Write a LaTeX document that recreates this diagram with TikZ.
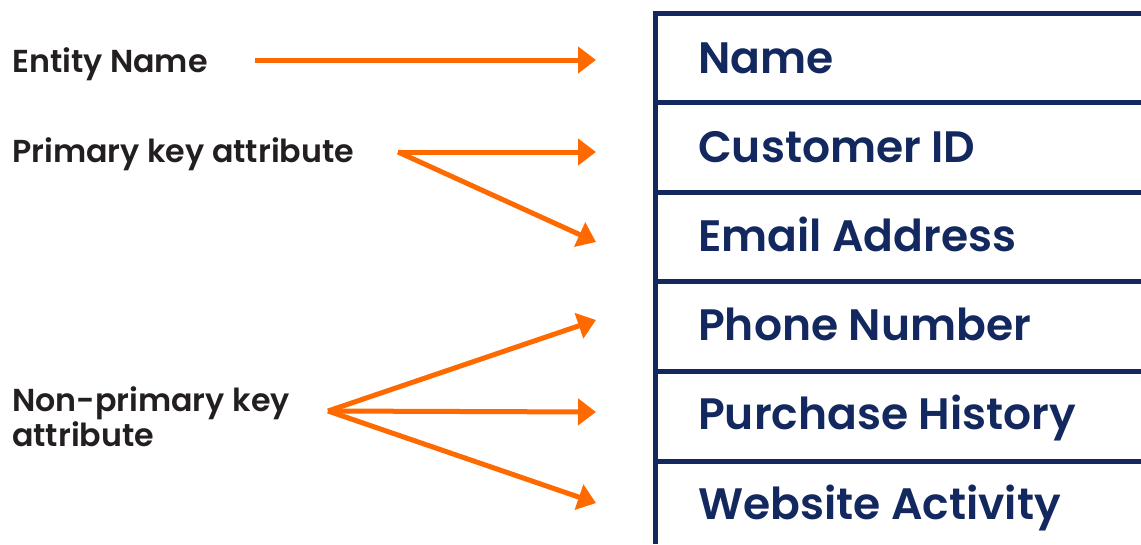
\documentclass[tikz,border=0pt]{standalone}
\usepackage{fontspec}
\setmainfont{Poppins}
\newfontfamily\labelfont{Poppins SemiBold}
\newfontfamily\rowfont{Poppins SemiBold}
\usetikzlibrary{arrows.meta}
\definecolor{navy}{RGB}{19,40,94}
\definecolor{pointer}{RGB}{255,106,0}
\definecolor{ink}{RGB}{35,31,32}
\tikzset{
  lbl/.style={anchor=base west, inner sep=0pt, text=ink, font=\labelfont\fontsize{31.7}{30}\selectfont, align=left},
  rowtext/.style={anchor=base west, inner sep=0pt, text=navy, font=\rowfont\fontsize{44}{50}\selectfont},
  rule/.style={draw=navy, line width=5pt},
  pointer/.style={draw=pointer, line width=5pt, -{Triangle[length=18pt,width=26pt]}}
}
\begin{document}
\begin{tikzpicture}[x=1pt,y=-1pt]
\useasboundingbox (0,0) rectangle (1141,544);

% entity table
\draw[rule] (655.5,11) -- (655.5,544);
\foreach \y in {13.5,102,192,281,371,461}
  \draw[rule] (653,\y) -- (1141,\y);

\node[rowtext] (rName)  at (698,73)  {Name};
\node[rowtext] (rCust)  at (698,162) {Customer ID};
\node[rowtext] (rEmail) at (698,251) {Email Address};
\node[rowtext] (rPhone) at (698,340) {Phone Number};
\node[rowtext] (rPurch) at (698,429) {Purchase History};
\node[rowtext] (rWeb)   at (698,519) {Website Activity};

% labels on the left
\node[lbl] (lEntity) at (12,72)  {Entity Name};
\node[lbl] (lPrim)   at (12,162) {Primary key attribute};
\node[lbl] (lNon)    at (12,446) {Non-primary key\\attribute};

% arrow ends and starts
\coordinate (sEntity) at (255,60);
\coordinate (sPrim)   at (398,152);
\coordinate (sNon)    at (328,411);
\coordinate (tName)   at (596,60);
\coordinate (tCust)   at (596,152);
\coordinate (tEmail)  at (596,242);
\coordinate (tPhone)  at (596,320);
\coordinate (tPurch)  at (596,412);
\coordinate (tWeb)    at (596,503);

\draw[pointer] (sEntity) -- (tName);
\draw[pointer] (sPrim) -- (tCust);
\draw[pointer] (sPrim) -- (tEmail);
\draw[pointer] (sNon) -- (tPhone);
\draw[pointer] (sNon) -- (tPurch);
\draw[pointer] (sNon) -- (tWeb);
\end{tikzpicture}
\end{document}
